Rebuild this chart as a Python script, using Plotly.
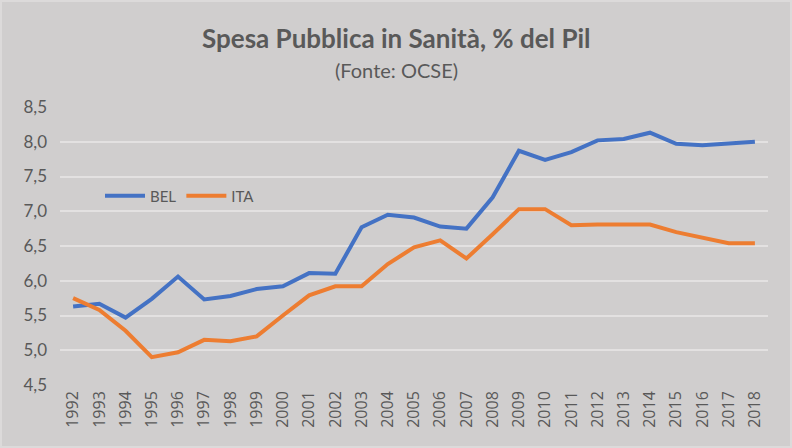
import plotly.graph_objects as go

years = [str(y) for y in range(1992, 2019)]
bel = [5.63, 5.67, 5.47, 5.74, 6.06, 5.73, 5.78, 5.88, 5.92, 6.11, 6.10, 6.77, 6.95,
       6.91, 6.78, 6.75, 7.20, 7.87, 7.74, 7.85, 8.02, 8.04, 8.13, 7.97, 7.95, 7.98, 8.00]
ita = [5.75, 5.58, 5.28, 4.90, 4.97, 5.15, 5.13, 5.20, 5.50, 5.79, 5.92, 5.92, 6.24,
       6.48, 6.58, 6.32, 6.67, 7.03, 7.03, 6.80, 6.81, 6.81, 6.81, 6.70, 6.62, 6.54, 6.54]
y_ticks = [4.5, 5.0, 5.5, 6.0, 6.5, 7.0, 7.5, 8.0, 8.5]
y_labels = ["4,5", "5,0", "5,5", "6,0", "6,5", "7,0", "7,5", "8,0", "8,5"]
title_text = "Spesa Pubblica in Sanità, % del Pil"
subtitle_text = "(Fonte: OCSE)"

BG = "#D0CECE"
TXT = "#595959"
W, H = 792, 448
L, R, T, B = 60, 24, 107, 63
PW, PH = W - L - R, H - T - B

fig = go.Figure()
fig.add_trace(go.Scatter(x=years, y=bel, name="BEL", mode="lines",
                         line=dict(color="#4472C4", width=4)))
fig.add_trace(go.Scatter(x=years, y=ita, name="ITA", mode="lines",
                         line=dict(color="#ED7D31", width=4)))

fig.update_layout(
    width=W, height=H,
    paper_bgcolor=BG, plot_bgcolor=BG,
    margin=dict(l=L, r=R, t=T, b=B, autoexpand=False),
    font=dict(family="Lato, Open Sans, sans-serif", color=TXT),
    showlegend=True,
    legend=dict(orientation="h", x=(100 - L) / PW, y=(H - B - 196) / PH,
                xanchor="left", yanchor="middle",
                bgcolor="rgba(0,0,0,0)", font=dict(size=15, color=TXT),
                itemwidth=40, tracegroupgap=0),
    xaxis=dict(type="category", range=[-0.5, 26.5], showgrid=False, zeroline=False,
               showline=False, ticks="", tickangle=-90, automargin=False,
               ticklabelstandoff=2,
               tickfont=dict(size=16, color=TXT, family="Open Sans, sans-serif")),
    yaxis=dict(range=[4.5, 8.5], tickvals=y_ticks, ticktext=y_labels,
               showgrid=True, gridcolor="#E3E1E1", gridwidth=1.5, zeroline=False,
               showline=False, ticks="", ticklabelstandoff=12, automargin=False,
               tickfont=dict(size=17, color=TXT, family="Lato, sans-serif")),
    annotations=[
        dict(text="<b>" + title_text + "</b>", xref="paper", yref="paper",
             x=(396 - L) / PW, y=1 + (T - 38) / PH, xanchor="center", yanchor="middle",
             showarrow=False, font=dict(size=26, color=TXT, family="Lato, sans-serif")),
        dict(text=subtitle_text, xref="paper", yref="paper",
             x=(396 - L) / PW, y=1 + (T - 70) / PH, xanchor="center", yanchor="middle",
             showarrow=False, font=dict(size=20, color=TXT, family="Lato, sans-serif")),
    ],
    shapes=[dict(type="rect", xref="paper", yref="paper",
                 x0=-L / PW + 1 / PW, x1=1 + R / PW - 1 / PW,
                 y0=-B / PH + 1 / PH, y1=1 + T / PH - 1 / PH,
                 line=dict(color="#DCDADA", width=2), fillcolor="rgba(0,0,0,0)",
                 layer="below")],
)

fig.write_html("out.html", config={"displayModeBar": False},
               post_script="document.body.style.margin='0';")
